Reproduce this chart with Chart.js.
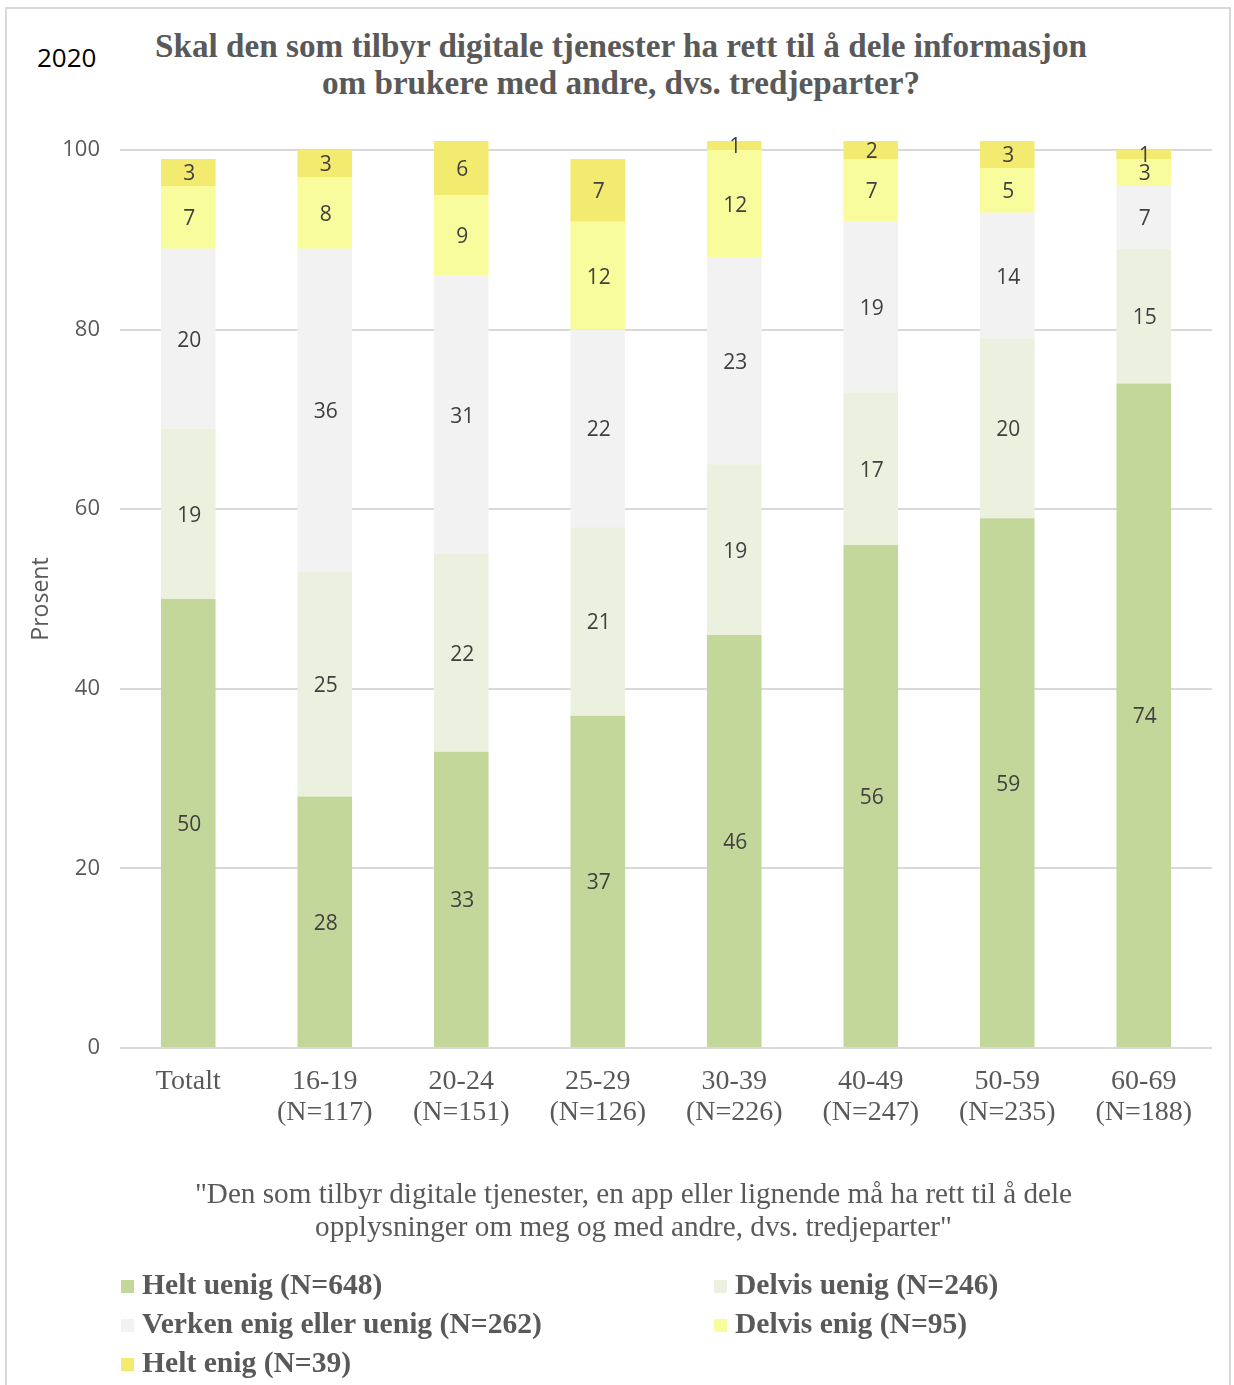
<!DOCTYPE html>
<html>
<head>
<meta charset="utf-8">
<script src="https://cdn.jsdelivr.net/npm/chart.js@4.4.0/dist/chart.umd.min.js"></script>
<style>
  body { margin: 0; background: #fff; }
  #wrap { position: relative; width: 1234px; height: 1385px; overflow: hidden; }
  #frame { position: absolute; left: 5px; top: 7px; width: 1226px; height: 1400px; border: 2px solid #d9d9d9; box-sizing: border-box; }
  #chart { position: absolute; left: 0; top: 0; }
  #year { position: absolute; left: 37px; top: 39px; font: 26px 'Open Sans', sans-serif; color: #000; }
  #title { position: absolute; left: 0; width: 1242px; top: 27px; text-align: center;
           font: bold 33.2px 'Liberation Serif', serif; line-height: 37px; color: #595959; }
  #note { position: absolute; left: 0; width: 1267px; top: 1177px; text-align: center;
          font: 29.2px 'Liberation Serif', serif; line-height: 33px; color: #595959; }
  #legend { position: absolute; left: 0; top: 1264px; width: 1234px; }
  .item { position: absolute; font: bold 29.6px 'Liberation Serif', serif; color: #595959; white-space: nowrap; line-height: 40px; }
  .item span { display: inline-block; width: 13px; height: 13px; margin-right: 8px; vertical-align: 1px; }
</style>
</head>
<body>
<div id="wrap">
  <div id="frame"></div>
  <div id="year">2020</div>
  <div id="title">Skal den som tilbyr digitale tjenester ha rett til å dele informasjon<br>om brukere med andre, dvs. tredjeparter?</div>
  <canvas id="chart" width="1234" height="1385"></canvas>
  <div id="note">"Den som tilbyr digitale tjenester, en app eller lignende må ha rett til å dele<br>opplysninger om meg og med andre, dvs. tredjeparter"</div>
  <div id="legend"></div>
</div>
<script>
const CATEGORIES = [
    ['Totalt'], ['16-19', '(N=117)'], ['20-24', '(N=151)'], ['25-29', '(N=126)'],
    ['30-39', '(N=226)'], ['40-49', '(N=247)'], ['50-59', '(N=235)'], ['60-69', '(N=188)']
];

const HELT_UENIG   = [50, 28, 33, 37, 46, 56, 59, 74];
const DELVIS_UENIG = [19, 25, 22, 21, 19, 17, 20, 15];
const VERKEN       = [20, 36, 31, 22, 23, 19, 14, 7];
const DELVIS_ENIG  = [7, 8, 9, 12, 12, 7, 5, 3];
const HELT_ENIG    = [3, 3, 6, 7, 1, 2, 3, 1];

const SERIES_NAMES = [
    'Helt uenig (N=648)', 'Delvis uenig (N=246)', 'Verken enig eller uenig (N=262)',
    'Delvis enig (N=95)', 'Helt enig (N=39)'
];
const SERIES_COLORS = ['#c4d79b', '#ebf1de', '#f2f2f2', '#f9fc9c', '#f2eb70'];
const Y_TICKS = [0, 20, 40, 60, 80, 100];

const SERIES_DATA = [HELT_UENIG, DELVIS_UENIG, VERKEN, DELVIS_ENIG, HELT_ENIG];

// numbers in the middle of every segment
const segmentLabels = {
    id: 'segmentLabels',
    afterDatasetsDraw(chart) {
        const ctx = chart.ctx;
        ctx.save();
        ctx.font = '21px "Open Sans", sans-serif';
        ctx.fillStyle = '#404040';
        ctx.textAlign = 'center';
        ctx.textBaseline = 'middle';
        chart.data.datasets.forEach(function (ds, i) {
            const meta = chart.getDatasetMeta(i);
            meta.data.forEach(function (bar, j) {
                const p = bar.getProps(['x', 'y', 'base'], true);
                ctx.fillText(ds.data[j], p.x + 1, (p.y + p.base) / 2 + 2);
            });
        });
        ctx.restore();
    }
};

const datasets = SERIES_NAMES.map(function (name, i) {
    return {
        label: name,
        data: SERIES_DATA[i],
        backgroundColor: SERIES_COLORS[i],
        barPercentage: 0.4,
        categoryPercentage: 1.0,
        clip: false
    };
});

new Chart(document.getElementById('chart'), {
    type: 'bar',
    data: { labels: CATEGORIES, datasets: datasets },
    plugins: [segmentLabels],
    options: {
        responsive: false,
        animation: false,
        layout: { padding: { left: 0, top: 150, right: 22, bottom: 237 } },
        plugins: { legend: { display: false }, tooltip: { enabled: false } },
        scales: {
            x: {
                stacked: true,
                grid: { display: false },
                border: { display: false },
                ticks: {
                    color: '#595959',
                    font: { family: 'Liberation Serif', size: 28, lineHeight: 1.1 },
                    padding: 10,
                    maxRotation: 0,
                    autoSkip: false
                },
                afterFit(scale) { scale.height = 100; }
            },
            y: {
                stacked: true,
                min: 0,
                max: 100,
                afterBuildTicks(scale) { scale.ticks = Y_TICKS.map(v => ({ value: v })); },
                grid: { color: '#d9d9d9', lineWidth: 2, drawTicks: false },
                border: { display: false },
                ticks: {
                    color: '#595959',
                    font: { family: 'Open Sans', size: 22 },
                    padding: 20
                },
                title: {
                    display: true,
                    text: 'Prosent',
                    color: '#595959',
                    font: { family: 'Open Sans', size: 23 },
                    padding: { top: 28, bottom: 0 }
                },
                afterFit(scale) { scale.width = 120; }
            }
        }
    }
});

const legend = document.getElementById('legend');
const LEGEND_POS = [[121, 0], [714, 0], [121, 39], [714, 39], [121, 78]];
SERIES_NAMES.forEach(function (name, i) {
    const item = document.createElement('div');
    item.className = 'item';
    item.style.left = LEGEND_POS[i][0] + 'px';
    item.style.top = LEGEND_POS[i][1] + 'px';
    item.innerHTML = '<span style="background:' + SERIES_COLORS[i] + '"></span>' + name;
    legend.appendChild(item);
});
</script>
</body>
</html>
